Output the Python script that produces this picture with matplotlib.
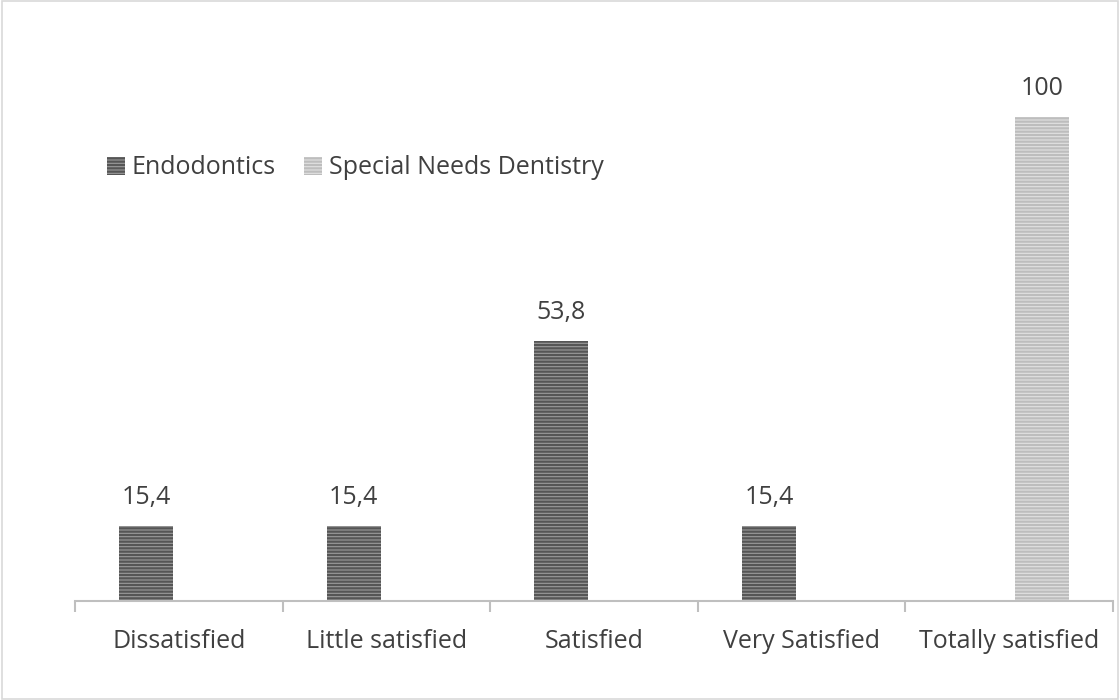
import matplotlib
matplotlib.use("Agg")
import matplotlib.pyplot as plt
from matplotlib.patches import Rectangle
import numpy as np

categories = ["Dissatisfied", "Little satisfied", "Satisfied", "Very Satisfied", "Totally satisfied"]
endodontics = [15.4, 15.4, 53.8, 15.4, 0]
special_needs = [0, 0, 0, 0, 100]
series_names = ["Endodontics", "Special Needs Dentistry"]

plt.rcParams['font.family'] = ['Open Sans', 'DejaVu Sans']
plt.rcParams['hatch.linewidth'] = 1.6

fig = plt.figure(figsize=(11.2, 7.0), dpi=100)
fig.patches.append(Rectangle((0.0015, 0.002), 0.997, 0.996, transform=fig.transFigure,
                             fill=False, edgecolor='#d9d9d9', linewidth=1.2))
ax = fig.add_axes([75/1120, 99/700, 1038/1120, 484/700])

x = np.arange(len(categories))
off = 0.157
w = 0.26
txt = '#404040'
fs = 18

def fmt(v):
    return ("%g" % v).replace('.', ',')

for i, v in enumerate(endodontics):
    if v > 0:
        ax.bar(x[i] - off, v, w, facecolor='#9a9a9a', edgecolor='#555555', hatch='-----', linewidth=0)
        ax.text(x[i] - off, v + 3.3, fmt(v), ha='center', va='bottom', fontsize=fs, color=txt)
for i, v in enumerate(special_needs):
    if v > 0:
        ax.bar(x[i] + off, v, w, facecolor='#e2e2e2', edgecolor='#bdbdbd', hatch='-----', linewidth=0)
        ax.text(x[i] + off, v + 3.3, fmt(v), ha='center', va='bottom', fontsize=fs, color=txt)

ax.set_xlim(-0.5, 4.5)
ax.set_ylim(0, 100)
ax.set_yticks([])
for s in ['top', 'right', 'left']:
    ax.spines[s].set_visible(False)
ax.spines['bottom'].set_color('#bfbfbf')
ax.spines['bottom'].set_linewidth(1.5)
ax.set_xticks(np.arange(-0.5, 5.0, 1.0), minor=False)
ax.set_xticklabels([])
ax.tick_params(axis='x', which='major', length=8, width=1.5, color='#bfbfbf', direction='out')
ax.set_xticks(x, minor=True)
ax.set_xticklabels(categories, minor=True)
ax.tick_params(axis='x', which='minor', length=0, pad=20, labelsize=fs, labelcolor=txt)

# legend
h1 = Rectangle((0, 0), 1, 1, facecolor='#9a9a9a', edgecolor='#555555', hatch='-----', linewidth=0)
h2 = Rectangle((0, 0), 1, 1, facecolor='#e2e2e2', edgecolor='#bdbdbd', hatch='-----', linewidth=0)
leg = fig.legend([h1, h2], series_names, loc='center left', bbox_to_anchor=(84/1120, 1 - 168/700),
                 ncol=2, frameon=False, fontsize=fs, handlelength=0.72, handleheight=0.72,
                 handletextpad=0.3, columnspacing=1.1, labelcolor=txt)

fig.savefig("out.png", dpi=100)
